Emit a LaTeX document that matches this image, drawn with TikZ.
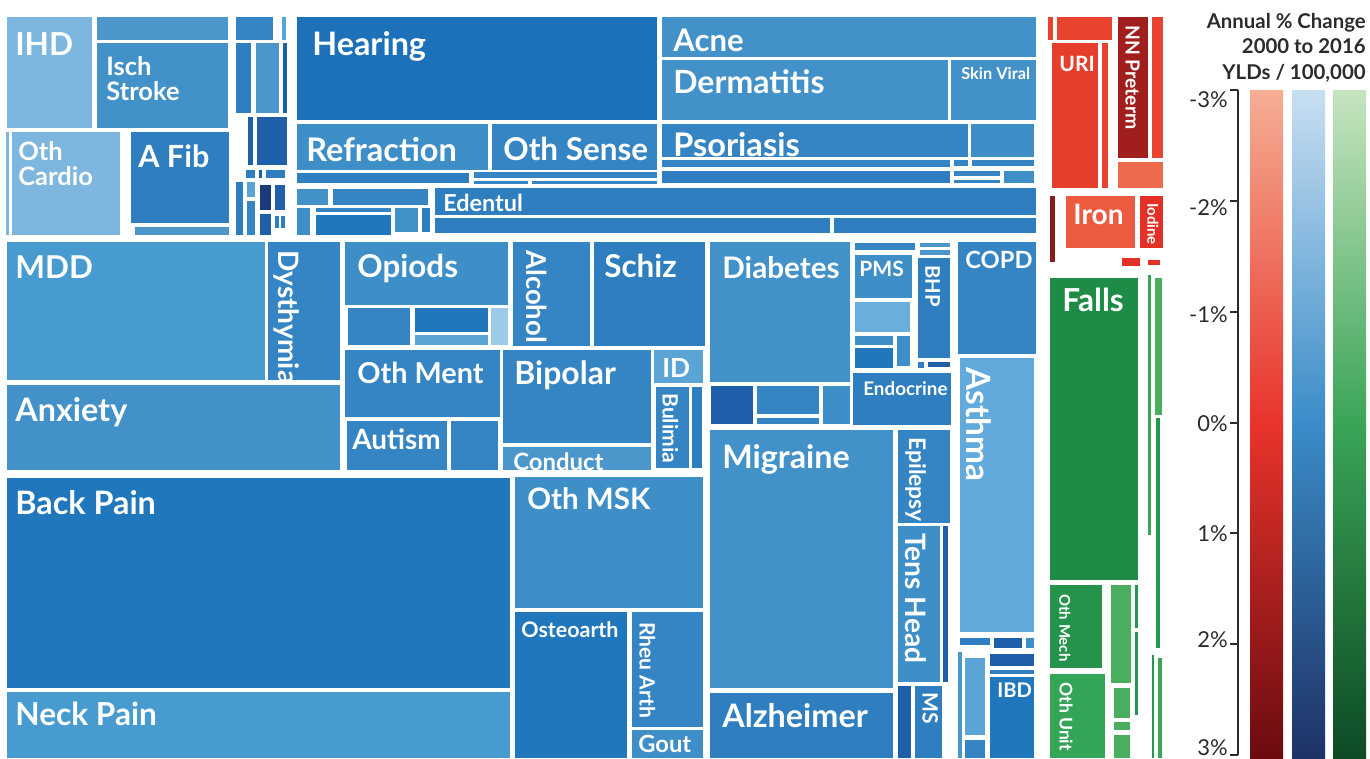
\documentclass[tikz,border=0pt]{standalone}
\usepackage{fontspec}
\setmainfont{Lato}
\usetikzlibrary{positioning}
% blues
\definecolor{bA}{HTML}{7DB6DE}
\definecolor{bB}{HTML}{4B97CC}
\definecolor{bC}{HTML}{4391C9}
\definecolor{bD}{HTML}{3585C4}
\definecolor{bE}{HTML}{2E7EC0}
\definecolor{bF}{HTML}{1F5EA8}
\definecolor{bG}{HTML}{1D71B8}
\definecolor{bH}{HTML}{1A3A78}
\definecolor{bI}{HTML}{5AA5D6}
\definecolor{bJ}{HTML}{9CCBE9}
\definecolor{bK}{HTML}{3E8EC8}
\definecolor{bL}{HTML}{6AAEDD}
\definecolor{bM}{HTML}{62AADB}
\definecolor{bN}{HTML}{2177BB}
\definecolor{bO}{HTML}{479BCF}
% reds
\definecolor{rA}{HTML}{E8432E}
\definecolor{rB}{HTML}{E53E2A}
\definecolor{rC}{HTML}{A01F1D}
\definecolor{rD}{HTML}{EE6A4C}
\definecolor{rE}{HTML}{8C1A1A}
\definecolor{rF}{HTML}{EC5A40}
\definecolor{rG}{HTML}{E53028}
% greens
\definecolor{gA}{HTML}{1E8C46}
\definecolor{gB}{HTML}{3AA457}
\definecolor{gC}{HTML}{4AAE5F}
\definecolor{gD}{HTML}{1F9A4C}
\definecolor{gE}{HTML}{25934A}
\definecolor{gF}{HTML}{34A456}
% legend
\definecolor{legtext}{HTML}{2B2B2B}
\definecolor{redtop}{HTML}{F5AE94}
\definecolor{redmid}{HTML}{E8332B}
\definecolor{redbot}{HTML}{6B0B10}
\definecolor{bluetop}{HTML}{C8DFF2}
\definecolor{bluemid}{HTML}{3A8CC8}
\definecolor{bluebot}{HTML}{1E3266}
\definecolor{greentop}{HTML}{C6E4C0}
\definecolor{greenmid}{HTML}{3AA457}
\definecolor{greenbot}{HTML}{0D4A25}
\tikzset{tilefill/.style = {fill=#1},
	lbl/.style = {text=white, inner sep=0pt, anchor=north west},
	vlbl/.style = {lbl, rotate=-90, anchor=south west},
	fsz/.style = {font=\bfseries\fontsize{#1}{#1}\selectfont},
	axisline/.style = {draw=legtext, line width=1.4pt},
	ticklbl/.style = {text=legtext, inner sep=0pt, anchor=east, font=\fontsize{12.5}{14}\selectfont}}
\NewDocumentCommand{\tmtile}{O{bD} m m}{%
	\fill[tilefill=#1] (#2) rectangle (#3);
}

\begin{document}
\begin{tikzpicture}[x=0.02cm,y=-0.02cm]
\useasboundingbox (0,0) rectangle (1370,758);
% cardiovascular
\tmtile[bA]{7,17}{92,128}
\tmtile[bB]{97,17}{228,40}
\tmtile[bC]{97,43}{228,128}
\tmtile[bA]{6,132}{9,235}
\tmtile[bA]{12,132}{120,235}
\tmtile[bE]{131,132}{229,223}
\tmtile[bB]{135,227}{229,235}
\tmtile[bD]{236,17}{273,40}
\tmtile[bI]{282,17}{286,40}
\tmtile[bE]{236,43}{251,113}
\tmtile[bB]{256,43}{279,113}
\tmtile[bF]{283,43}{287,113}
\tmtile[bF]{248,117}{253,165}
\tmtile[bF]{257,117}{287,165}
\tmtile[bE]{246,170}{255,178}
\tmtile[bF]{259,170}{262,178}
\tmtile[bE]{266,170}{285,178}
\tmtile[bE]{236,182}{243,235}
\tmtile[bI]{247,182}{255,197}
\tmtile[bD]{247,201}{255,235}
\tmtile[bH]{260,185}{271,210}
\tmtile[bF]{275,185}{285,210}
\tmtile[bF]{260,214}{271,235}
\tmtile[bE]{275,216}{279,228}
\tmtile[bE]{281,216}{285,228}
% sense organs
\tmtile[bG]{297,17}{657,120}
\tmtile[bK]{297,124}{488,170}
\tmtile[bD]{492,124}{657,170}
\tmtile[bE]{297,173}{469,183}
\tmtile[bD]{474,172}{657,178}
\tmtile[bD]{474,181}{528,184}
\tmtile[bD]{532,181}{657,184}
\tmtile[bC]{297,189}{328,205}
\tmtile[bD]{333,189}{428,205}
\tmtile[bK]{297,208}{310,235}
\tmtile[bD]{316,208}{391,212}
\tmtile[bN]{316,215}{391,235}
\tmtile[bC]{395,208}{418,232}
\tmtile[bE]{422,208}{430,232}
\tmtile[bE]{435,188}{1036,215}
\tmtile[bE]{435,218}{830,233}
\tmtile[bE]{834,218}{1036,233}
% skin
\tmtile[bC]{662,17}{1036,57}
\tmtile[bC]{662,60}{948,120}
\tmtile[bC]{951,60}{1036,120}
\tmtile[bD]{662,124}{968,157}
\tmtile[bK]{971,124}{1034,157}
\tmtile[bD]{662,160}{950,167}
\tmtile[bD]{954,160}{968,166}
\tmtile[bD]{972,160}{1034,166}
\tmtile[bE]{662,171}{950,183}
\tmtile[bD]{954,171}{1000,176}
\tmtile[bD]{954,180}{1000,183}
\tmtile[bK]{1004,171}{1034,183}
% mental
\tmtile[bO]{7,242}{265,380}
\tmtile[bD]{268,242}{340,380}
\tmtile[bC]{7,385}{340,470}
\tmtile[bK]{345,242}{508,305}
\tmtile[bD]{348,308}{410,345}
\tmtile[bN]{415,308}{488,332}
\tmtile[bI]{415,335}{488,345}
\tmtile[bJ]{491,308}{508,345}
\tmtile[bD]{513,242}{590,346}
\tmtile[bE]{594,242}{705,346}
\tmtile[bD]{345,350}{500,417}
\tmtile[bD]{347,421}{447,470}
\tmtile[bD]{451,421}{498,470}
\tmtile[bD]{503,350}{651,443}
\tmtile[bB]{503,447}{651,470}
\tmtile[bI]{654,350}{703,383}
\tmtile[bD]{656,387}{689,468}
\tmtile[bE]{692,387}{702,468}
% musculoskeletal
\tmtile[bN]{7,478}{510,688}
\tmtile[bO]{7,692}{510,758}
\tmtile[bK]{515,477}{703,608}
\tmtile[bN]{515,612}{627,758}
\tmtile[bD]{632,612}{703,727}
\tmtile[bK]{632,730}{703,758}
% diabetes, endocrine, respiratory
\tmtile[bC]{710,242}{850,382}
\tmtile[bD]{855,243}{915,250}
\tmtile[bB]{920,243}{950,247}
\tmtile[bB]{920,250}{950,255}
\tmtile[bK]{855,255}{912,298}
\tmtile[bL]{855,302}{910,332}
\tmtile[bK]{855,336}{893,345}
\tmtile[bK]{897,336}{910,366}
\tmtile[bN]{855,348}{893,368}
\tmtile[bE]{918,258}{950,358}
\tmtile[bE]{918,362}{924,368}
\tmtile[bF]{928,362}{950,367}
\tmtile[bE]{853,373}{951,425}
\tmtile[bF]{711,386}{753,424}
\tmtile[bD]{757,386}{819,414}
\tmtile[bD]{757,418}{819,424}
\tmtile[bK]{823,386}{850,424}
\tmtile[bD]{958,242}{1036,354}
\tmtile[bM]{960,358}{1034,632}
% neurological
\tmtile[bC]{710,430}{893,688}
\tmtile[bD]{898,430}{950,523}
\tmtile[bK]{898,526}{940,682}
\tmtile[bF]{943,526}{948,682}
\tmtile[bE]{710,693}{893,758}
\tmtile[bF]{898,686}{911,758}
\tmtile[bE]{915,686}{942,758}
\tmtile[bE]{960,638}{990,645}
\tmtile[bF]{994,638}{1022,648}
\tmtile[bK]{1026,638}{1034,648}
\tmtile[bB]{958,652}{962,758}
\tmtile[bI]{965,658}{985,735}
\tmtile[bD]{965,740}{985,758}
\tmtile[bF]{990,654}{1034,666}
\tmtile[bE]{990,670}{1034,674}
\tmtile[bN]{990,677}{1034,758}
% communicable, nutritional
\tmtile[rA]{1048,17}{1053,40}
\tmtile[rA]{1057,17}{1112,40}
\tmtile[rB]{1052,43}{1098,188}
\tmtile[rA]{1102,43}{1108,188}
\tmtile[rC]{1118,17}{1148,158}
\tmtile[rA]{1152,17}{1163,158}
\tmtile[rD]{1118,162}{1163,188}
\tmtile[rE]{1050,196}{1055,262}
\tmtile[rF]{1066,196}{1135,248}
\tmtile[rG]{1140,196}{1163,248}
\tmtile[rG]{1122,258}{1140,266}
\tmtile[rG]{1148,260}{1160,265}
% injuries
\tmtile[gA]{1050,278}{1138,580}
\tmtile[gB]{1148,275}{1151,535}
\tmtile[gC]{1155,278}{1162,415}
\tmtile[gD]{1156,418}{1160,648}
\tmtile[gE]{1050,585}{1102,668}
\tmtile[gF]{1050,674}{1105,758}
\tmtile[gC]{1111,585}{1131,683}
\tmtile[gD]{1135,585}{1138,628}
\tmtile[gD]{1135,632}{1138,715}
\tmtile[gC]{1114,688}{1130,718}
\tmtile[gC]{1114,722}{1130,730}
\tmtile[gC]{1114,735}{1130,758}
\tmtile[gD]{1152,655}{1154,758}
\tmtile[gB]{1158,658}{1162,758}
% labels
\node[lbl,fsz=18] (ihd) at (15,32) {IHD};
\node[lbl,align=left,font=\bfseries\fontsize{14.5}{14.2}\selectfont] (isch) at (106,56) {Isch\\Stroke};
\node[lbl,align=left,font=\bfseries\fontsize{14.5}{14.2}\selectfont] (othcardio) at (18,141) {Oth\\Cardio};
\node[lbl,fsz=17.4] (afib) at (138,144) {A Fib};
\node[lbl,fsz=18.4] (hearing) at (312,31) {Hearing};
\node[lbl,fsz=18.5] (refraction) at (306,137) {Refraction};
\node[lbl,fsz=17.9] (othsense) at (503,137) {Oth Sense};
\node[lbl,fsz=13.3] (edentul) at (443,194) {Edentul};
\node[lbl,fsz=17.7] (acne) at (673,29) {Acne};
\node[lbl,fsz=18.2] (dermatitis) at (673,69) {Dermatitis};
\node[lbl,fsz=9.3] (skinviral) at (961,67) {Skin Viral};
\node[lbl,fsz=18.5] (psoriasis) at (673,132) {Psoriasis};
\node[lbl,fsz=17.9] (mdd) at (15,255) {MDD};
\node[vlbl,fsz=16] (dysthymia) at (273,250) {Dysthymia};
\node[lbl,fsz=18.4] (anxiety) at (15,397) {Anxiety};
\node[lbl,fsz=17.9] (opiods) at (357,254) {Opiods};
\node[vlbl,fsz=15.6] (alcohol) at (526,250) {Alcohol};
\node[lbl,fsz=17.9] (schiz) at (604,254) {Schiz};
\node[lbl,fsz=16.4] (othment) at (357,362) {Oth Ment};
\node[lbl,fsz=15.9] (autism) at (352,428) {Autism};
\node[lbl,fsz=13.6] (conduct) at (513,452) {Conduct};
\node[lbl,fsz=18.2] (bipolar) at (514,360) {Bipolar};
\node[lbl,fsz=15] (idis) at (662,358) {ID};
\node[vlbl,fsz=12] (bulimia) at (662,393) {Bulimia};
\node[lbl,fsz=18.4] (backpain) at (15,490) {Back Pain};
\node[lbl,fsz=18] (neckpain) at (15,702) {Neck Pain};
\node[lbl,fsz=16.8] (othmsk) at (527,487) {Oth MSK};
\node[lbl,fsz=12.2] (osteoarth) at (521,621) {Osteoarth};
\node[vlbl,fsz=12] (rheuarth) at (639,622) {Rheu Arth};
\node[lbl,fsz=13.5] (gout) at (638,735) {Gout};
\node[lbl,fsz=16.9] (diabetes) at (722,256) {Diabetes};
\node[lbl,fsz=12] (pms) at (859,261) {PMS};
\node[vlbl,fsz=11.5] (bhp) at (925,265) {BHP};
\node[lbl,fsz=10.7] (endocrine) at (863,381) {Endocrine};
\node[lbl,fsz=13.5] (copd) at (965,251) {COPD};
\node[vlbl,fsz=19] (asthma) at (966,367) {Asthma};
\node[lbl,fsz=18.4] (migraine) at (722,444) {Migraine};
\node[vlbl,fsz=13] (epilepsy) at (905,437) {Epilepsy};
\node[vlbl,fsz=16] (tenshead) at (905,533) {Tens Head};
\node[lbl,fsz=18.4] (alzheimer) at (722,703) {Alzheimer};
\node[vlbl,fsz=12] (ms) at (922,692) {MS};
\node[lbl,fsz=11.5] (ibd) at (997,683) {IBD};
\node[lbl,fsz=12] (uri) at (1059,56) {URI};
\node[vlbl,fsz=11] (nnpreterm) at (1125,25) {NN Preterm};
\node[lbl,fsz=16] (iron) at (1073,204) {Iron};
\node[vlbl,fsz=8.5] (iodine) at (1147,203) {Iodine};
\node[lbl,fsz=18] (falls) at (1062,288) {Falls};
\node[vlbl,fsz=8.5] (othmech) at (1059,594) {Oth Mech};
\node[vlbl,fsz=10] (othunit) at (1059,682) {Oth Unit};
% legend
\node[text=legtext, inner sep=0pt, anchor=north east, align=right,
	font=\bfseries\fontsize{11.6}{14.5}\selectfont] (legtitle) at (1366,13)
	{Annual \% Change\\2000 to 2016\\YLDs / 100,000};
\fill[top color=redtop, bottom color=redbot, middle color=redmid] (1250,90) rectangle (1283,758);
\fill[top color=bluetop, bottom color=bluebot, middle color=bluemid] (1292,90) rectangle (1325,758);
\fill[top color=greentop, bottom color=greenbot, middle color=greenmid] (1333,90) rectangle (1366,758);
\draw[axisline] (1238,90) -- (1238,755);
\foreach \v/\yt/\yl [count=\n] in {-3/90/100,-2/201/208,-1/312/315,0/423/424,1/533/534,2/644/640,3/755/748}{
	\draw[axisline] (1230,\yt) -- (1238,\yt);
	\node[ticklbl] (tick\n) at (1228,\yl) {\v\%};
}
\end{tikzpicture}
\end{document}
